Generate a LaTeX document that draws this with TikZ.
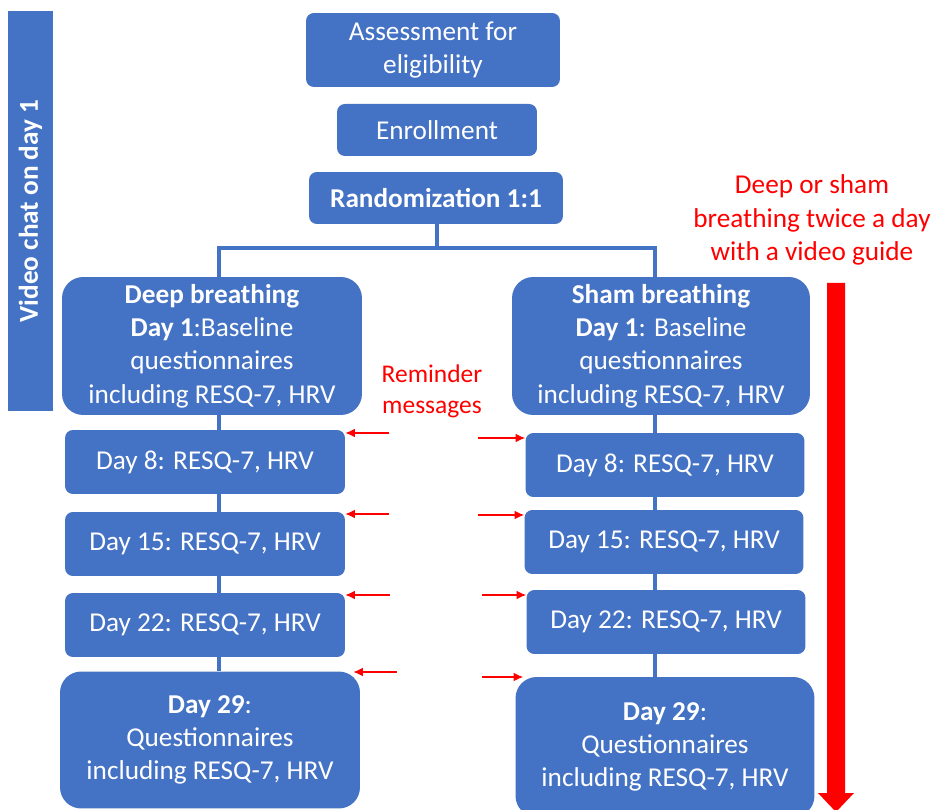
\documentclass[tikz,border=0pt]{standalone}
\usepackage{fontspec}
\setmainfont{Carlito}
\usetikzlibrary{arrows.meta}
\definecolor{boxblue}{HTML}{4472C4}
\begin{document}
\begin{tikzpicture}%
	[x=0.02cm, y=-0.02cm,
	box/.style={fill=boxblue, text=white, rounded corners=4.5pt, align=center, inner sep=0pt,
		font=\fontsize{15.5}{19}\selectfont},
	daybox/.style={box, minimum width=5.6cm, minimum height=1.28cm},
	bigbox/.style={box, rounded corners=12pt, minimum height=2.76cm},
	link/.style={draw=boxblue, line width=2.3pt},
	remind/.style={draw=red, line width=0.7pt, -{Latex[length=5.5pt, width=5pt]}},
	note/.style={text=red, align=center, font=\fontsize{15.5}{19}\selectfont}]
\useasboundingbox (0,0) rectangle (946,810);
%%
%% Drawing the boxes
%%
\node[box, minimum width=5.08cm, minimum height=1.48cm] (assess) at (433,50) {Assessment for\\eligibility};
\node[box, minimum width=4cm, minimum height=1.04cm] (enrol) at (437,130) {Enrollment};
\node[box, minimum width=5.08cm, minimum height=1.04cm] (rand) at (436,198) {\textbf{Randomization 1:1}};
\node[bigbox, minimum width=6cm] (deep) at (212,346) {\textbf{Deep breathing}\\\textbf{Day 1}:Baseline\\questionnaires\\including RESQ-7, HRV};
\node[bigbox, minimum width=5.96cm] (sham) at (661,346) {\textbf{Sham breathing}\\\textbf{Day 1}: Baseline\\questionnaires\\including RESQ-7, HRV};
\node[daybox] (d8L) at (205,462) {Day 8: RESQ-7, HRV};
\node[daybox] (d15L) at (205,544) {Day 15: RESQ-7, HRV};
\node[daybox] (d22L) at (205,625) {Day 22: RESQ-7, HRV};
\node[bigbox, minimum width=6cm, minimum height=2.74cm] (d29L) at (210,740) {\textbf{Day 29}:\\Questionnaires\\including RESQ-7, HRV};
\node[daybox, minimum width=5.58cm] (d8R) at (665,465) {Day 8: RESQ-7, HRV};
\node[daybox, minimum width=5.58cm] (d15R) at (664,542) {Day 15: RESQ-7, HRV};
\node[daybox, minimum width=5.58cm] (d22R) at (666,622) {Day 22: RESQ-7, HRV};
\node[bigbox, minimum width=5.98cm, minimum height=2.8cm] (d29R) at (665,747) {\textbf{Day 29}:\\Questionnaires\\including RESQ-7, HRV};
\node[box, rounded corners=0pt, rotate=90, minimum width=8cm, minimum height=0.9cm] (chat) at (30.5,211) {\textbf{Video chat on day 1}};
%%
%% Drawing the tree
%%
\coordinate (split) at (437,248);
\coordinate (spineL) at (219,0);
\coordinate (spineR) at (655,0);
\draw[link] (rand.south -| split) -- (split);
\draw[link] (deep.north -| spineL) |- (split) -| (sham.north -| spineR);
\draw[link] (deep.south -| spineL) -- (d8L.north -| spineL);
\draw[link] (d8L.south -| spineL) -- (d15L.north -| spineL);
\draw[link] (d15L.south -| spineL) -- (d22L.north -| spineL);
\draw[link] (d22L.south -| spineL) -- (d29L.north -| spineL);
\draw[link] (sham.south -| spineR) -- (d8R.north -| spineR);
\draw[link] (d8R.south -| spineR) -- (d15R.north -| spineR);
\draw[link] (d15R.south -| spineR) -- (d22R.north -| spineR);
\draw[link] (d22R.south -| spineR) -- (d29R.north -| spineR);
%%
%% Drawing the reminders
%%
\node[note, font=\fontsize{14.5}{17.5}\selectfont] (remtext) at (432,391) {Reminder\\messages};
\coordinate (r1L) at (389,433);
\coordinate (r2L) at (389,514);
\coordinate (r3L) at (390,595);
\coordinate (r4L) at (397,672);
\coordinate (r1R) at (478,438);
\coordinate (r2R) at (478,515);
\coordinate (r3R) at (482,595);
\coordinate (r4R) at (482,677);
\draw[remind] (r1L) -- (r1L -| d8L.east);
\draw[remind] (r2L) -- (r2L -| d15L.east);
\draw[remind] (r3L) -- (r3L -| d22L.east);
\draw[remind] (r4L) -- ([xshift=-0.14cm]r4L -| d29L.east);
\draw[remind] (r1R) -- (r1R -| d8R.west);
\draw[remind] (r2R) -- (r2R -| d15R.west);
\draw[remind] (r3R) -- (r3R -| d22R.west);
\draw[remind] (r4R) -- ([xshift=0.16cm]r4R -| d29R.west);
%%
%% Drawing the practice arrow
%%
\node[note] (practice) at (812,220) {Deep or sham\\breathing twice a day\\with a video guide};
\fill[red] (827,283) -- (845,283) -- (845,793) -- (854,793) -- (836,812) -- (818,793) -- (827,793) -- cycle;
%%
\end{tikzpicture}
\end{document}
